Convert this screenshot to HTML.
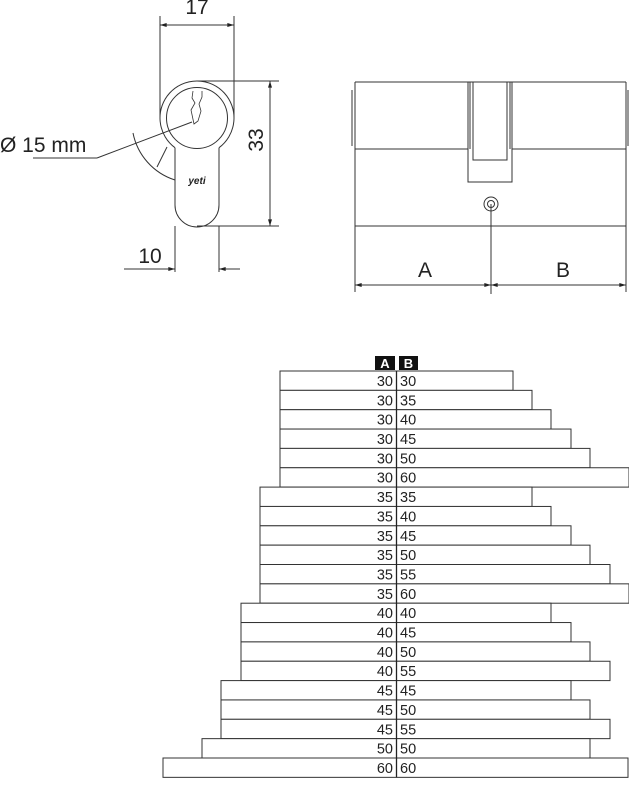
<!DOCTYPE html>
<html><head><meta charset="utf-8"><style>
html,body{margin:0;padding:0;background:#fff;}
svg{display:block;}
text{font-family:"Liberation Sans",Arial,sans-serif;fill:#222;}
</style></head><body>
<svg width="629" height="800" viewBox="0 0 629 800" xmlns="http://www.w3.org/2000/svg">
<defs>
<marker id="ar" viewBox="0 0 10 6" refX="10" refY="3" markerWidth="12" markerHeight="4" orient="auto-start-reverse" markerUnits="userSpaceOnUse"><path d="M0,0 L10,3 L0,6 z" fill="#222"/></marker>
</defs>
<g stroke="#333" fill="none" stroke-width="1">
<path d="M175,147.7 A37,37 0 1 1 219,147.7"/>
<circle cx="197" cy="118" r="30.5"/>
<path d="M175,147.7 L175,205 A22,22 0 0 0 219,205 L219,147.7"/>
<line x1="160" y1="16" x2="160" y2="118"/>
<line x1="234" y1="16" x2="234" y2="118"/>
<line x1="160" y1="25" x2="234" y2="25" marker-start="url(#ar)" marker-end="url(#ar)"/>
<line x1="197" y1="81" x2="279" y2="81"/>
<line x1="197" y1="226" x2="279" y2="226"/>
<line x1="270" y1="81" x2="270" y2="226" marker-start="url(#ar)" marker-end="url(#ar)"/>
<line x1="175" y1="226" x2="175" y2="272"/>
<line x1="219" y1="226" x2="219" y2="272"/>
<line x1="124" y1="269" x2="175" y2="269" marker-end="url(#ar)"/>
<line x1="240" y1="269" x2="219" y2="269" marker-end="url(#ar)"/>
<line x1="33" y1="158" x2="97" y2="158"/>
<line x1="97" y1="158" x2="192" y2="122"/>
<path d="M133,133 A62,62 0 0 0 175,180"/>
<line x1="157" y1="167" x2="167" y2="147"/>
<path d="M193,91 L192,98 L195,103 L191,110 L194,124 L198,121 L201,111 L199,104 L202,97 L202,91" stroke-width="0.8"/>
<path d="M355,82 L468,82 M355,149 L468,149 M512,82 L626,82 M512,149 L626,149"/>
<path d="M352,90 L352,146 M628,90 L628,146"/>
<line x1="355" y1="82" x2="355" y2="292"/>
<line x1="626" y1="82" x2="626" y2="292"/>
<line x1="355" y1="226" x2="626" y2="226"/>
<rect x="468" y="82" width="44" height="100"/>
<path d="M473,82 L473,160 L507,160 L507,82 M470,82 L470,149 M510,82 L510,149"/>
<circle cx="491" cy="204" r="7"/>
<circle cx="491" cy="204" r="3.5"/>
<line x1="491" y1="204" x2="491" y2="294"/>
<line x1="355" y1="285" x2="491" y2="285" marker-start="url(#ar)" marker-end="url(#ar)"/>
<line x1="491" y1="285" x2="626" y2="285" marker-start="url(#ar)" marker-end="url(#ar)"/>
</g>
<text x="197" y="14" font-size="21" text-anchor="middle">17</text>
<text x="150" y="263" font-size="21" text-anchor="middle">10</text>
<text x="0" y="152" font-size="21">Ø 15 mm</text>
<text transform="translate(263,140) rotate(-90)" font-size="21" text-anchor="middle">33</text>
<text x="197" y="184" font-size="10" font-style="italic" font-weight="bold" text-anchor="middle" font-family="Liberation Serif,serif">yeti</text>
<text x="425" y="277" font-size="21" text-anchor="middle">A</text>
<text x="563" y="277" font-size="21" text-anchor="middle">B</text>
<rect x="375" y="356" width="20" height="14" fill="#111"/>
<rect x="399" y="356" width="19" height="14" fill="#111"/>
<text x="385" y="368" font-size="13" font-weight="bold" text-anchor="middle" style="fill:#fff">A</text>
<text x="408.5" y="368" font-size="13" font-weight="bold" text-anchor="middle" style="fill:#fff">B</text>
<g stroke="#333" fill="#fff">
<rect x="280" y="371" width="233" height="19.35"/>
<rect x="280" y="390.35" width="252" height="19.35"/>
<rect x="280" y="409.7" width="271" height="19.35"/>
<rect x="280" y="429.05" width="291" height="19.35"/>
<rect x="280" y="448.4" width="310" height="19.35"/>
<rect x="280" y="467.75" width="349" height="19.35"/>
<rect x="260" y="487.1" width="272" height="19.35"/>
<rect x="260" y="506.45" width="291" height="19.35"/>
<rect x="260" y="525.8" width="311" height="19.35"/>
<rect x="260" y="545.15" width="330" height="19.35"/>
<rect x="260" y="564.5" width="350" height="19.35"/>
<rect x="260" y="583.85" width="369" height="19.35"/>
<rect x="241" y="603.2" width="310" height="19.35"/>
<rect x="241" y="622.55" width="330" height="19.35"/>
<rect x="241" y="641.9" width="349" height="19.35"/>
<rect x="241" y="661.25" width="369" height="19.35"/>
<rect x="221" y="680.6" width="350" height="19.35"/>
<rect x="221" y="699.95" width="369" height="19.35"/>
<rect x="221" y="719.3" width="389" height="19.35"/>
<rect x="202" y="738.65" width="388" height="19.35"/>
<rect x="163" y="758" width="465" height="19.35"/>
</g>
<line x1="396.5" y1="371" x2="396.5" y2="777.5" stroke="#222" stroke-width="1.3"/>
<g font-size="14.5">
<text x="393" y="386" text-anchor="end">30</text><text x="400" y="386">30</text>
<text x="393" y="405.3" text-anchor="end">30</text><text x="400" y="405.3">35</text>
<text x="393" y="424.7" text-anchor="end">30</text><text x="400" y="424.7">40</text>
<text x="393" y="444" text-anchor="end">30</text><text x="400" y="444">45</text>
<text x="393" y="463.4" text-anchor="end">30</text><text x="400" y="463.4">50</text>
<text x="393" y="482.7" text-anchor="end">30</text><text x="400" y="482.7">60</text>
<text x="393" y="502.1" text-anchor="end">35</text><text x="400" y="502.1">35</text>
<text x="393" y="521.4" text-anchor="end">35</text><text x="400" y="521.4">40</text>
<text x="393" y="540.8" text-anchor="end">35</text><text x="400" y="540.8">45</text>
<text x="393" y="560.1" text-anchor="end">35</text><text x="400" y="560.1">50</text>
<text x="393" y="579.5" text-anchor="end">35</text><text x="400" y="579.5">55</text>
<text x="393" y="598.8" text-anchor="end">35</text><text x="400" y="598.8">60</text>
<text x="393" y="618.2" text-anchor="end">40</text><text x="400" y="618.2">40</text>
<text x="393" y="637.5" text-anchor="end">40</text><text x="400" y="637.5">45</text>
<text x="393" y="656.9" text-anchor="end">40</text><text x="400" y="656.9">50</text>
<text x="393" y="676.2" text-anchor="end">40</text><text x="400" y="676.2">55</text>
<text x="393" y="695.6" text-anchor="end">45</text><text x="400" y="695.6">45</text>
<text x="393" y="714.9" text-anchor="end">45</text><text x="400" y="714.9">50</text>
<text x="393" y="734.3" text-anchor="end">45</text><text x="400" y="734.3">55</text>
<text x="393" y="753.6" text-anchor="end">50</text><text x="400" y="753.6">50</text>
<text x="393" y="773" text-anchor="end">60</text><text x="400" y="773">60</text>
</g>
</svg>
</body></html>
